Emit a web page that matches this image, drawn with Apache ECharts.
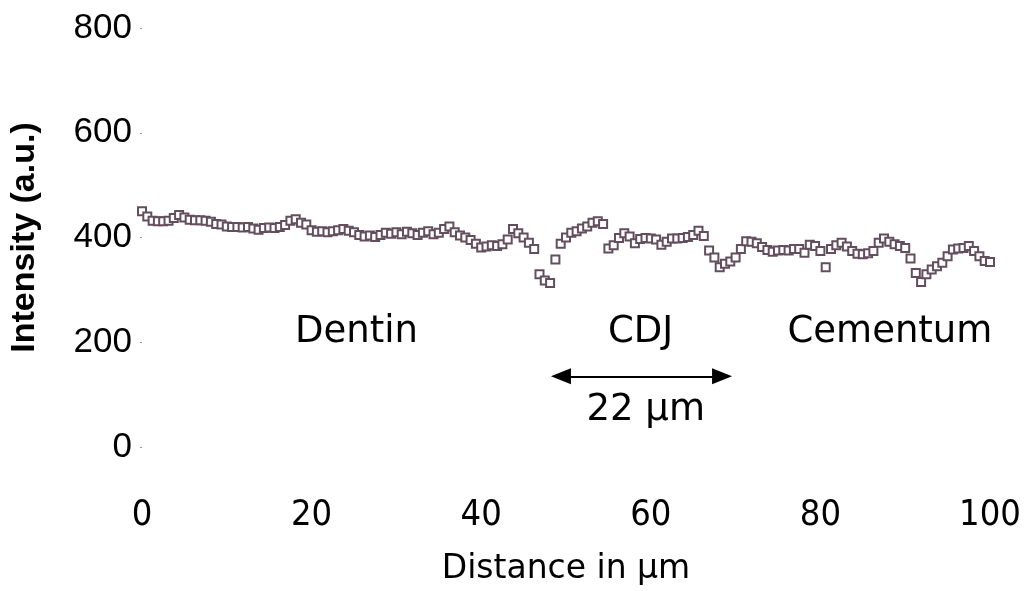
<!DOCTYPE html>
<html>
<head>
<meta charset="utf-8">
<script src="https://cdn.jsdelivr.net/npm/echarts@6/dist/echarts.min.js"></script>
<style>
  html, body { margin: 0; padding: 0; background: #fff; }
  #chart { width: 1025px; height: 591px; }
</style>
</head>
<body>
<div id="chart"></div>
<script>
// Line-profile sampling step along the scan (µm)
const stepUm = 0.625;

// Measured intensity along the scan, one value per sample
const intensity = [
  450, 440, 432, 431, 431, 432, 437, 443, 438, 434,
  433, 433, 432, 430, 426, 425, 421, 420, 420, 419,
  420, 417, 415, 418, 419, 418, 420, 424, 432, 435,
  428, 425, 414, 411, 412, 410, 412, 414, 416, 413,
  410, 405, 402, 404, 401, 405, 409, 407, 410, 406,
  411, 408, 405, 409, 412, 406, 409, 416, 421, 410,
  404, 400, 395, 388, 381, 383, 385, 384, 387, 396,
  416, 408, 400, 390, 378, 330, 318, 313, 358, 388,
  400, 409, 412, 417, 421, 428, 431, 426, 379, 385,
  399, 408, 402, 389, 397, 399, 398, 396, 386, 392,
  398, 398, 399, 401, 405, 413, 403, 375, 362, 343,
  350, 354, 362, 378, 393, 392, 389, 382, 376, 373,
  375, 376, 375, 378, 378, 371, 386, 384, 374, 343,
  378, 385, 390, 383, 374, 369, 368, 370, 374, 390,
  398, 392, 387, 384, 380, 360, 332, 315, 330, 339,
  345, 352, 364, 377, 379, 380, 384, 374, 364, 355,
  353
];

// Axis ticks
const xTicks = [0, 20, 40, 60, 80, 100];
const yTicks = [0, 200, 400, 600, 800];

// Region labels: [distance, intensity, text]
const regionLabels = [
  [25.3, 219, 'Dentin'],
  [58.8, 219, 'CDJ'],
  [88.2, 219, 'Cementum'],
  [59.4, 69, '22 µm']
];

// Double arrow across the junction zone; the heads are centred on
// these points, so each tip sits about one head-length further out
const cdjArrowFrom = 49.4;
const cdjArrowTo = 68.4;
const cdjArrowLevel = 135;

const profile = intensity.map((v, i) => [i * stepUm, v]);

const chart = echarts.init(document.getElementById('chart'), null, { renderer: 'canvas' });

const sansFont = "'DejaVu Sans', sans-serif";
const condensedFont = "'DejaVu Sans Condensed', 'DejaVu Sans', sans-serif";
const narrowFont = "'Liberation Sans Narrow', 'Liberation Sans', sans-serif";

chart.setOption({
  animation: false,
  backgroundColor: '#ffffff',
  grid: { left: 140, right: 35, top: 28, bottom: 136, containLabel: false },
  xAxis: {
    type: 'value',
    min: xTicks[0],
    max: xTicks[xTicks.length - 1],
    interval: 20,
    name: 'Distance in µm',
    nameLocation: 'middle',
    nameGap: 106,
    nameTextStyle: { fontFamily: sansFont, fontSize: 33, color: '#000' },
    axisLine: { show: false },
    axisTick: { show: false },
    splitLine: { show: false },
    axisLabel: {
      margin: 51,
      fontFamily: condensedFont,
      fontSize: 36,
      color: '#000'
    }
  },
  yAxis: {
    type: 'value',
    min: yTicks[0],
    max: yTicks[yTicks.length - 1],
    interval: 200,
    name: 'Intensity (a.u.)',
    nameLocation: 'middle',
    nameRotate: 90,
    nameGap: 100,
    nameTextStyle: { fontFamily: 'Liberation Sans', fontWeight: 'bold', fontSize: 34, color: '#000' },
    axisLine: { show: false },
    axisTick: { show: true, length: 2, lineStyle: { color: '#999', width: 1 } },
    splitLine: { show: false },
    axisLabel: {
      margin: 10,
      fontFamily: narrowFont,
      fontSize: 35,
      color: '#000'
    }
  },
  series: [
    {
      name: 'profile',
      type: 'scatter',
      data: profile,
      symbol: 'emptyRect',
      symbolSize: 8,
      itemStyle: { color: '#634e5e', borderWidth: 1, opacity: 1 },
      markLine: {
        silent: true,
        symbol: ['triangle', 'triangle'],
        symbolSize: [16, 20],
        label: { show: false },
        lineStyle: { color: '#000', width: 2, type: 'solid', opacity: 1 },
        data: [[
          { coord: [cdjArrowFrom, cdjArrowLevel] },
          { coord: [cdjArrowTo, cdjArrowLevel] }
        ]]
      }
    },
    {
      name: 'regions',
      type: 'scatter',
      data: regionLabels,
      symbolSize: 0,
      silent: true,
      itemStyle: { opacity: 1 },
      label: {
        show: true,
        position: 'inside',
        formatter: p => p.data[2],
        fontFamily: sansFont,
        fontSize: 37,
        color: '#000',
        opacity: 1
      }
    }
  ]
});
</script>
</body>
</html>
